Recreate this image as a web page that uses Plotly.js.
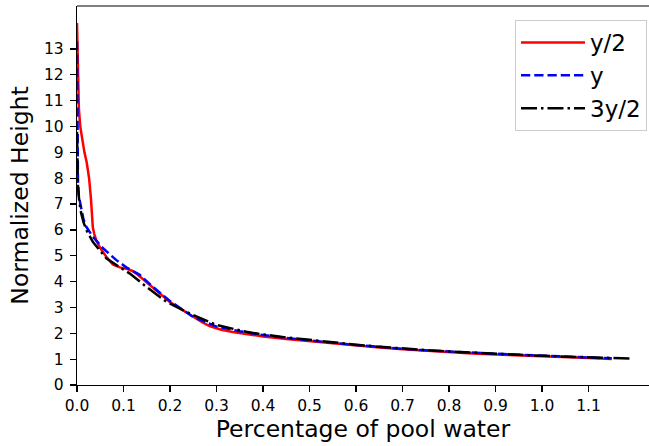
<!DOCTYPE html>
<html>
<head>
<meta charset="utf-8">
<script src="https://cdn.plot.ly/plotly-3.0.1.min.js"></script>
<style>
  html, body { margin: 0; padding: 0; background: #fff; }
  #chart { width: 649px; height: 446px; }
</style>
</head>
<body>
<div id="chart"></div>
<script>
// Normalized height against percentage of pool water, for three widths
const xHalf = [0, 0.001, 0.002, 0.004, 0.007, 0.011, 0.016, 0.021, 0.026, 0.030, 0.032, 0.034, 0.037, 0.041, 0.050, 0.063, 0.077, 0.092, 0.106, 0.118, 0.127, 0.140, 0.156, 0.178, 0.199, 0.225, 0.249, 0.270, 0.285, 0.310, 0.335, 0.370, 0.400, 0.450, 0.500, 0.550, 0.600, 0.650, 0.700, 0.750, 0.800, 0.850, 0.900, 0.950, 1.000, 1.050, 1.100, 1.150];
const yHalf = [14.0, 12.8, 11.6, 10.7, 10.0, 9.5, 9.0, 8.6, 8.0, 7.2, 6.7, 6.1, 5.85, 5.62, 5.3, 4.96, 4.66, 4.55, 4.5, 4.42, 4.32, 4.12, 3.87, 3.55, 3.22, 2.92, 2.64, 2.42, 2.28, 2.14, 2.05, 1.95, 1.88, 1.78, 1.69, 1.61, 1.53, 1.45, 1.38, 1.32, 1.27, 1.22, 1.18, 1.14, 1.11, 1.07, 1.04, 1.01];

const xOne = [0, 0.0005, 0.001, 0.002, 0.004, 0.009, 0.014, 0.020, 0.034, 0.056, 0.084, 0.106, 0.120, 0.135, 0.163, 0.199, 0.249, 0.300, 0.350, 0.393, 0.450, 0.500, 0.550, 0.600, 0.650, 0.700, 0.750, 0.800, 0.850, 0.900, 0.950, 1.000, 1.050, 1.100, 1.150];
const yOne = [13.3, 11.5, 9.8, 7.93, 7.3, 6.77, 6.4, 6.12, 5.74, 5.29, 4.84, 4.55, 4.42, 4.26, 3.80, 3.26, 2.64, 2.26, 2.08, 1.95, 1.82, 1.72, 1.63, 1.55, 1.47, 1.40, 1.34, 1.29, 1.25, 1.21, 1.17, 1.13, 1.10, 1.07, 1.03];

const xThreeHalf = [0, 0.0005, 0.001, 0.002, 0.005, 0.009, 0.014, 0.020, 0.034, 0.063, 0.092, 0.113, 0.149, 0.192, 0.249, 0.300, 0.364, 0.393, 0.450, 0.500, 0.550, 0.600, 0.650, 0.700, 0.750, 0.800, 0.850, 0.900, 0.950, 1.000, 1.050, 1.100, 1.150, 1.192];
const yThreeHalf = [9.8, 8.9, 8.3, 7.67, 7.1, 6.64, 6.3, 6.0, 5.54, 4.90, 4.55, 4.32, 3.80, 3.22, 2.71, 2.32, 2.06, 1.97, 1.84, 1.74, 1.64, 1.56, 1.48, 1.41, 1.35, 1.30, 1.25, 1.21, 1.17, 1.13, 1.10, 1.07, 1.04, 1.02];

const seriesNames = ['y/2', 'y', '3y/2'];
const xTickVals = [0, 0.1, 0.2, 0.3, 0.4, 0.5, 0.6, 0.7, 0.8, 0.9, 1.0, 1.1];
const xTickText = ['0.0', '0.1', '0.2', '0.3', '0.4', '0.5', '0.6', '0.7', '0.8', '0.9', '1.0', '1.1'];
const yTickVals = [0, 1, 2, 3, 4, 5, 6, 7, 8, 9, 10, 11, 12, 13];

const font = 'DejaVu Sans, sans-serif';

const traces = [
  { x: xHalf, y: yHalf, name: seriesNames[0], legendgroup: 'a',
    mode: 'lines', line: { color: '#ff0000', width: 2.5 } },
  { x: xOne, y: yOne, name: seriesNames[1], legendgroup: 'b',
    mode: 'lines', line: { color: '#0000ff', width: 2.5, dash: '9.25px,4px' } },
  { x: xThreeHalf, y: yThreeHalf, name: seriesNames[2], legendgroup: 'c',
    mode: 'lines', line: { color: '#000000', width: 2.5, dash: '16px,4px,2.5px,4px' } }
];

const layout = {
  width: 649, height: 446,
  margin: { l: 77, r: 0, t: 6, b: 61, pad: 0 },
  paper_bgcolor: '#fff', plot_bgcolor: '#fff',
  font: { family: font, color: '#000', size: 15.5 },
  showlegend: true,
  xaxis: {
    range: [0, 572 / 465], showgrid: false, zeroline: false,
    showline: true, linecolor: '#000', linewidth: 1.2,
    ticks: 'outside', ticklen: 6, tickwidth: 1.2, tickcolor: '#000',
    tickvals: xTickVals, ticktext: xTickText,
    tickfont: { family: font, size: 15.5 },
    title: { text: 'Percentage of pool water', font: { family: font, size: 23.5 }, standoff: 6 }
  },
  yaxis: {
    range: [0, 379 / 25.85], showgrid: false, zeroline: false,
    showline: true, linecolor: '#000', linewidth: 1.2,
    ticks: 'outside', ticklen: 6, tickwidth: 1.2, tickcolor: '#000',
    tickvals: yTickVals, ticklabelstandoff: 3,
    tickfont: { family: font, size: 15.5 },
    title: { text: 'Normalized Height', font: { family: font, size: 23.5 }, standoff: 8 }
  },
  shapes: [
    { type: 'line', xref: 'paper', yref: 'paper', x0: 0, x1: 1, y0: 1, y1: 1,
      line: { color: '#000', width: 1.2 } }
  ],
  legend: {
    x: 0.9965, y: 0.963, xanchor: 'right', yanchor: 'top',
    bgcolor: 'rgba(255,255,255,0.8)', bordercolor: '#cccccc', borderwidth: 1,
    font: { family: font, size: 23 },
    itemwidth: 64, tracegroupgap: 0
  }
};

Plotly.newPlot('chart', traces, layout, { displayModeBar: false, staticPlot: true });
</script>
</body>
</html>
